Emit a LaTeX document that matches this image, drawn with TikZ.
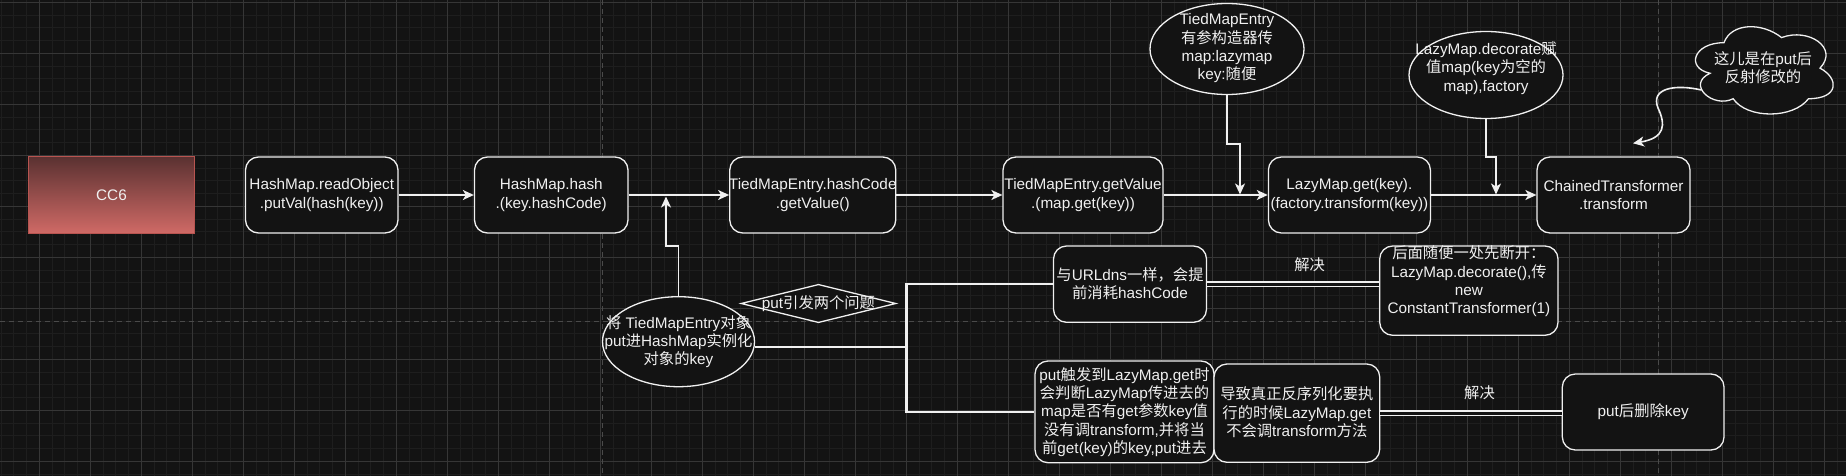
\documentclass[tikz,border=0pt]{standalone}
\usepackage{fontspec}
\setmainfont{Liberation Sans}
\newfontfamily\cjk{Noto Sans CJK SC}
\newcommand\zh[1]{{\cjk #1}}
\usetikzlibrary{arrows.meta,shapes.geometric,calc}
\definecolor{bgc}{HTML}{131313}
\definecolor{gminor}{HTML}{1E1E1E}
\definecolor{gmajor}{HTML}{363636}
\definecolor{pgbrk}{HTML}{4A4A4A}
\definecolor{fg}{HTML}{F0F0F0}
\definecolor{cctop}{HTML}{5A3131}
\definecolor{ccbot}{HTML}{D06A66}
\definecolor{ccline}{HTML}{B85450}
\begin{document}
\begin{tikzpicture}[x=1pt,y=-1pt,
  box/.style={draw=fg,line width=1.3pt,fill=bgc,rounded corners=13pt,inner sep=0pt},
  oval/.style={ellipse,draw=fg,line width=1.3pt,fill=bgc,inner sep=0pt},
  txt/.style={text=fg,align=center,inner sep=0pt,font=\fontsize{15.3}{18.3}\selectfont},
  arr/.style={draw=fg,line width=1.6pt,-{Stealth[length=11pt,width=10pt,inset=3pt]}},
  branch/.style={draw=fg,line width=2.2pt},
  dbl/.style={draw=fg,line width=1.3pt,double=bgc,double distance=3pt},
  minorg/.style={draw=gminor,line width=1pt},
  majorg/.style={draw=gmajor,line width=1pt},
  pagebrk/.style={draw=pgbrk,line width=1pt,dash pattern=on 5pt off 4pt}
]
\useasboundingbox (0,0) rectangle (1846,476);
\fill[bgc] (0,0) rectangle (1846,476);
% grid
\foreach \i in {0,...,144} \draw[minorg] ({1.05+12.75*\i},0) -- ++(0,476);
\foreach \j in {0,...,37} \draw[minorg] (0,{2.3+12.75*\j}) -- ++(1846,0);
\foreach \i in {0,...,35} \draw[majorg] ({39.3+51*\i},0) -- ++(0,476);
\foreach \j in {0,...,9} \draw[majorg] (0,{2.3+51*\j}) -- ++(1846,0);
\draw[pagebrk] (602,0) -- (602,476);
\draw[pagebrk] (1658,0) -- (1658,476);
\draw[pagebrk] (0,321.5) -- (1846,321.5);

% main chain
\node[box,sharp corners,draw=ccline,top color=cctop,bottom color=ccbot,minimum width=166pt,minimum height=77pt] (cc6) at (111.5,195) {};
\node[txt] (cc6t) at (cc6) {CC6};
\node[box,minimum width=152.5pt,minimum height=76pt] (b1) at (321.75,195) {};
\node[txt] (b1t) at (b1) {HashMap.readObject\\.putVal(hash(key))};
\node[box,minimum width=153.5pt,minimum height=76pt] (b2) at (551.25,195) {};
\node[txt] (b2t) at (b2) {HashMap.hash\\.(key.hashCode)};
\node[box,minimum width=166pt,minimum height=76pt] (b3) at (812.75,195) {};
\node[txt] (b3t) at (b3) {TiedMapEntry.hashCode\\.getValue()};
\node[box,minimum width=160pt,minimum height=76pt] (b4) at (1083,195) {};
\node[txt] (b4t) at (b4) {TiedMapEntry.getValue\\.(map.get(key))};
\node[box,minimum width=162pt,minimum height=76pt] (b5) at (1349.4,195) {};
\node[txt] (b5t) at (b5) {LazyMap.get(key).\\(factory.transform(key))};
\node[box,minimum width=153pt,minimum height=76pt] (b6) at (1613.5,195) {};
\node[txt] (b6t) at (b6) {ChainedTransformer\\.transform};

% ellipses
\node[oval,minimum width=154pt,minimum height=91pt] (e1) at (1227,49) {};
\node[txt] (e1t) at (1227,48.4) {TiedMapEntry\\\zh{有参构造器传}\\map:lazymap\\key:\zh{随便}};
\node[oval,minimum width=154pt,minimum height=87pt] (e2) at (1486,75) {};
\node[txt] (e2t) at (1486,68) {LazyMap.decorate\zh{赋}\\\zh{值}map(key\zh{为空的}\\map),factory};
\node[oval,minimum width=152pt,minimum height=90pt] (e3) at (678.5,341.7) {};
\node[txt] (e3t) at (e3) {\zh{将} TiedMapEntry\zh{对象}\\put\zh{进}HashMap\zh{实例化}\\\zh{对象的}key};
\node[diamond,draw=fg,line width=1.3pt,fill=bgc,inner sep=0pt,minimum width=155pt,minimum height=38.4pt] (dia) at (818.5,303.5) {};
\node[txt] (diat) at (dia) {put\zh{引发两个问题}};

% cloud
\draw[draw=fg,fill=bgc,line width=1.3pt]
  (1723.93,42.68) .. controls (1693.19,42.68) and (1685.5,68.15) .. (1710.09,73.25)
  .. controls (1685.5,84.45) and (1713.17,108.91) .. (1733.15,98.72)
  .. controls (1746.98,119.1) and (1793.09,119.1) .. (1808.46,98.72)
  .. controls (1839.2,98.72) and (1839.2,78.34) .. (1819.99,68.15)
  .. controls (1839.2,47.77) and (1808.46,27.39) .. (1781.56,37.58)
  .. controls (1762.35,22.30) and (1731.61,22.30) .. (1723.93,42.68) -- cycle;
\node[txt] (cl) at (1763,67.4) {\zh{这儿是在}put\zh{后}\\\zh{反射修改的}};

% lower boxes
\node[box,minimum width=153pt,minimum height=76.3pt] (u1) at (1130,284.15) {};
\node[txt] (u1t) at (1130,283.5) {\zh{与}URLdns\zh{一样，会提}\\\zh{前消耗}hashCode};
\node[box,minimum width=178.3pt,minimum height=89.3pt] (s1) at (1468.85,290.65) {};
\node[txt] (s1t) at (1468.85,281.5) {\zh{后面随便一处先断开：}\\LazyMap.decorate(),\zh{传}\\new\\ConstantTransformer(1)};
\node[box,minimum width=179pt,minimum height=101.7pt] (p1) at (1124.5,411.85) {};
\node[txt] (p1t) at (p1) {put\zh{触发到}LazyMap.get\zh{时}\\\zh{会判断}LazyMap\zh{传进去的}\\map\zh{是否有}get\zh{参数}key\zh{值}\\\zh{没有调}transform,\zh{并将当}\\\zh{前}get(key)\zh{的}key,put\zh{进去}};
\node[box,minimum width=165.7pt,minimum height=98.3pt] (d1) at (1296.85,413.15) {};
\node[txt] (d1t) at (1296.85,412.3) {\zh{导致真正反序列化要执}\\\zh{行的时候}LazyMap.get\\\zh{不会调}transform\zh{方法}};
\node[box,minimum width=161.7pt,minimum height=76pt] (kb) at (1643.15,412) {};
\node[txt] (kbt) at (kb) {put\zh{后删除}key};

\node[txt] (lab1) at (1309.6,264.3) {\zh{解决}};
\node[txt] (lab2) at (1479.5,392.3) {\zh{解决}};

% connectors
\draw[arr] (b1) -- (b2);
\draw[arr] (b2) -- (b3);
\draw[arr] (b3) -- (b4);
\draw[arr] (b4) -- (b5);
\draw[arr] (b5) -- (b6);

\coordinate (bend1) at (666,246);
\coordinate (tip1) at (666,196.5);
\draw[arr] (e3.north) |- (bend1) -- (tip1);
\coordinate (bend2) at (1240,144);
\coordinate (tip2) at (1240,194.5);
\draw[arr] (e1.south) |- (bend2) -- (tip2);
\coordinate (bend3) at (1496,157);
\coordinate (tip3) at (1496,194.5);
\draw[arr] (e2.south) |- (bend3) -- (tip3);

\coordinate (cs) at (1701.5,90);
\coordinate (ce) at (1633,143.3);
\draw[arr] (cs) .. controls (1675,84) and (1650,88) .. (1658,108) .. controls (1666,125) and (1665,138) .. (ce);

\coordinate (m) at (906.5,346.7);
\draw[branch] ($(e3.east)+(0,5)$) -- (m);
\draw[branch] (u1.west) -| (m) |- (p1.west);

\draw[dbl] (u1.east) -- (u1.east -| s1.west);
\draw[dbl] (d1.east) -- (d1.east -| kb.west);
\end{tikzpicture}
\end{document}
